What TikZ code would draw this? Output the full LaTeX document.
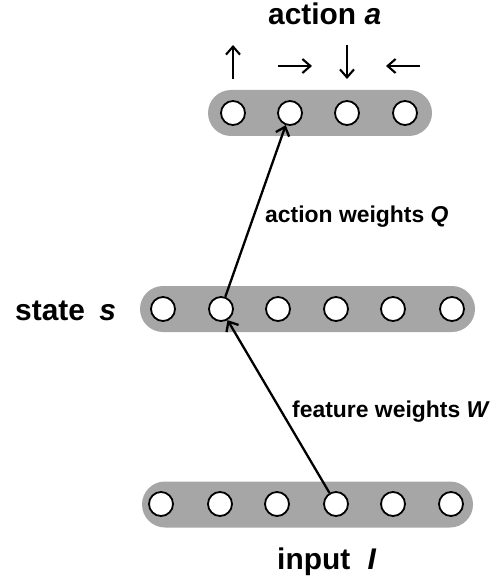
\documentclass[tikz,border=0pt]{standalone}
\usepackage{fontspec}
\setmainfont{Liberation Sans}
\usetikzlibrary{arrows.meta}
\definecolor{bargray}{HTML}{A6A6A6}
\begin{document}
\begin{tikzpicture}[x=1bp,y=-1bp,
  bar/.style={fill=bargray,draw=none,rounded corners=23bp,minimum height=46bp,inner sep=0pt},
  unit/.style={circle,draw=black,fill=white,line width=1.8bp,minimum size=24bp,inner sep=0pt},
  wt/.style={line width=2.3bp,-{Straight Barb[length=8bp,width=14bp,line width=2.3bp]}},
  act/.style={line width=2.1bp,-{Straight Barb[length=8bp,width=14bp,line width=2.1bp]}},
  big/.style={font=\fontsize{30}{34}\selectfont\bfseries,anchor=base west,inner sep=0pt},
  small/.style={font=\fontsize{23}{26}\selectfont\bfseries,anchor=base west,inner sep=0pt}]
\useasboundingbox (0,0) rectangle (502,582);
% bars
\node[bar,minimum width=224bp] (topbar) at (320,113) {};
\node[bar,minimum width=335bp] (midbar) at (307.5,309) {};
\node[bar,minimum width=331bp] (botbar) at (307.5,504.5) {};
% top units
\foreach \i/\x in {1/233,2/290,3/347,4/405} \node[unit] (a\i) at (\x,113) {};
% middle units
\foreach \i/\x in {1/163,2/221,3/278,4/336,5/393,6/452} \node[unit] (s\i) at (\x,309) {};
% bottom units
\foreach \i/\x in {1/161,2/220,3/277,4/336,5/393,6/451} \node[unit] (b\i) at (\x,504) {};
% weights arrows
\draw[wt] (b4) -- (s2);
\draw[wt] (s2) -- (a2);
% action arrows
\coordinate (u1) at (233,79); \coordinate (u2) at (233,45);
\coordinate (r1) at (278,66); \coordinate (r2) at (312,66);
\coordinate (d1) at (347,45); \coordinate (d2) at (347,79);
\coordinate (l1) at (420,66); \coordinate (l2) at (386,66);
\draw[act] (u1) -- (u2);
\draw[act] (r1) -- (r2);
\draw[act] (d1) -- (d2);
\draw[act] (l1) -- (l2);
% labels
\node[big] (lact) at (268,25) {action \textit{a}};
\node[big] (lstate) at (15,320) {state\hspace{0.2em} \textit{s}};
\node[big] (linput) at (277,569) {input\hspace{0.3em} \textit{I}};
\node[small] (lq) at (265,222) {action weights \textit{Q}};
\node[small] (lw) at (292,417) {feature weights \textit{W}};
\end{tikzpicture}
\end{document}
